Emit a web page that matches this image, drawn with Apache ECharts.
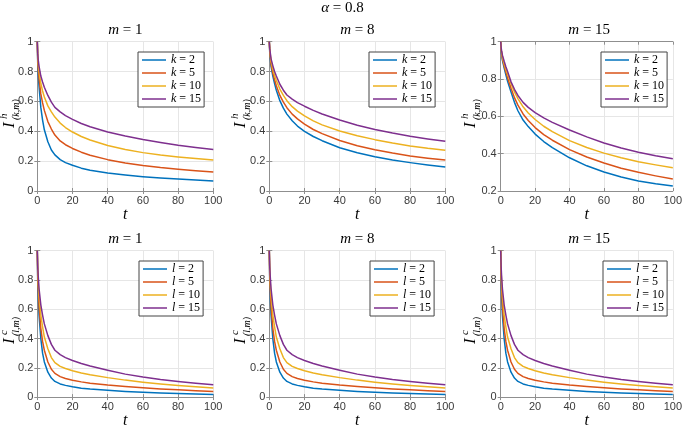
<!DOCTYPE html>
<html><head><meta charset="utf-8">
<script src="https://cdn.jsdelivr.net/npm/echarts@6/dist/echarts.min.js"></script>
<style>html,body{margin:0;padding:0;background:#fff}#c{width:685px;height:430px}</style>
</head><body><div id="c"></div>
<script>
// ---- data ----
const tValues = [0,0.25,0.5,1,2,3,4,6,8,10,13,16,20,25,30,40,50,60,70,80,90,100];
const kNames = ['k = 2','k = 5','k = 10','k = 15'];
const lNames = ['l = 2','l = 5','l = 10','l = 15'];
const mValues = ['1','8','15'];
const alphaValue = '0.8';

// top row, m = 1
const h_m1_k2  = [1,0.85,0.78,0.70,0.56,0.475,0.41,0.33,0.275,0.242,0.21,0.19,0.172,0.153,0.139,0.12,0.107,0.096,0.087,0.08,0.073,0.067];
const h_m1_k5  = [1,0.88,0.82,0.75,0.65,0.59,0.54,0.465,0.415,0.375,0.335,0.31,0.285,0.26,0.24,0.21,0.188,0.171,0.157,0.146,0.136,0.127];
const h_m1_k10 = [1,0.90,0.86,0.80,0.72,0.67,0.63,0.57,0.53,0.495,0.455,0.425,0.395,0.365,0.342,0.305,0.278,0.257,0.241,0.228,0.217,0.208];
const h_m1_k15 = [1,0.92,0.88,0.835,0.77,0.73,0.695,0.64,0.595,0.56,0.53,0.505,0.48,0.452,0.43,0.395,0.368,0.345,0.325,0.307,0.292,0.278];
// top row, m = 8
const h_m8_k2  = [1,0.93,0.895,0.835,0.77,0.72,0.675,0.605,0.555,0.515,0.47,0.435,0.40,0.365,0.337,0.29,0.256,0.23,0.208,0.19,0.174,0.16];
const h_m8_k5  = [1,0.94,0.905,0.85,0.79,0.745,0.705,0.64,0.595,0.558,0.515,0.483,0.448,0.412,0.384,0.338,0.303,0.276,0.254,0.235,0.22,0.207];
const h_m8_k10 = [1,0.95,0.92,0.87,0.815,0.775,0.74,0.683,0.64,0.605,0.565,0.535,0.503,0.47,0.443,0.402,0.37,0.344,0.321,0.302,0.286,0.273];
const h_m8_k15 = [1,0.955,0.93,0.885,0.84,0.80,0.77,0.715,0.675,0.643,0.615,0.592,0.568,0.54,0.516,0.476,0.441,0.412,0.388,0.367,0.349,0.333];
// top row, m = 15
const h_m15_k2  = [1,0.955,0.935,0.90,0.86,0.822,0.788,0.73,0.675,0.63,0.58,0.545,0.505,0.465,0.432,0.378,0.335,0.302,0.275,0.254,0.239,0.227];
const h_m15_k5  = [1,0.96,0.94,0.91,0.87,0.837,0.806,0.75,0.70,0.66,0.613,0.578,0.54,0.502,0.472,0.422,0.382,0.35,0.322,0.30,0.281,0.264];
const h_m15_k10 = [1,0.965,0.945,0.918,0.882,0.852,0.825,0.775,0.731,0.695,0.651,0.618,0.583,0.547,0.518,0.47,0.433,0.403,0.378,0.357,0.34,0.325];
const h_m15_k15 = [1,0.97,0.952,0.928,0.895,0.866,0.84,0.785,0.745,0.712,0.675,0.648,0.62,0.592,0.568,0.527,0.49,0.457,0.43,0.408,0.389,0.373];
// bottom row, m = 1
const c_m1_l2  = [1,0.78,0.69,0.56,0.40,0.30,0.24,0.17,0.13,0.107,0.09,0.08,0.07,0.061,0.055,0.046,0.039,0.033,0.028,0.024,0.021,0.018];
const c_m1_l5  = [1,0.82,0.74,0.62,0.47,0.38,0.32,0.24,0.19,0.162,0.14,0.127,0.115,0.104,0.095,0.082,0.072,0.064,0.056,0.05,0.044,0.039];
const c_m1_l10 = [1,0.86,0.79,0.69,0.56,0.48,0.41,0.33,0.27,0.235,0.21,0.195,0.18,0.165,0.153,0.133,0.116,0.102,0.09,0.08,0.07,0.062];
const c_m1_l15 = [1,0.89,0.83,0.74,0.63,0.56,0.50,0.42,0.36,0.32,0.29,0.27,0.25,0.23,0.213,0.184,0.157,0.137,0.12,0.106,0.094,0.084];
// bottom row, m = 8 (reads the same as m = 1)
const c_m8_l2  = [1,0.78,0.69,0.56,0.40,0.30,0.24,0.17,0.13,0.107,0.09,0.08,0.07,0.061,0.055,0.046,0.039,0.033,0.028,0.024,0.021,0.018];
const c_m8_l5  = [1,0.82,0.74,0.62,0.47,0.38,0.32,0.24,0.19,0.162,0.14,0.127,0.115,0.104,0.095,0.082,0.072,0.064,0.056,0.05,0.044,0.039];
const c_m8_l10 = [1,0.86,0.79,0.69,0.56,0.48,0.41,0.33,0.27,0.235,0.21,0.195,0.18,0.165,0.153,0.133,0.116,0.102,0.09,0.08,0.07,0.062];
const c_m8_l15 = [1,0.89,0.83,0.74,0.63,0.56,0.50,0.42,0.36,0.32,0.29,0.27,0.25,0.23,0.213,0.184,0.157,0.137,0.12,0.106,0.094,0.084];
// bottom row, m = 15 (reads the same as m = 1)
const c_m15_l2  = [1,0.78,0.69,0.56,0.40,0.30,0.24,0.17,0.13,0.107,0.09,0.08,0.07,0.061,0.055,0.046,0.039,0.033,0.028,0.024,0.021,0.018];
const c_m15_l5  = [1,0.82,0.74,0.62,0.47,0.38,0.32,0.24,0.19,0.162,0.14,0.127,0.115,0.104,0.095,0.082,0.072,0.064,0.056,0.05,0.044,0.039];
const c_m15_l10 = [1,0.86,0.79,0.69,0.56,0.48,0.41,0.33,0.27,0.235,0.21,0.195,0.18,0.165,0.153,0.133,0.116,0.102,0.09,0.08,0.07,0.062];
const c_m15_l15 = [1,0.89,0.83,0.74,0.63,0.56,0.50,0.42,0.36,0.32,0.29,0.27,0.25,0.23,0.213,0.184,0.157,0.137,0.12,0.106,0.094,0.084];

const panelSeries = [
  [h_m1_k2,h_m1_k5,h_m1_k10,h_m1_k15],
  [h_m8_k2,h_m8_k5,h_m8_k10,h_m8_k15],
  [h_m15_k2,h_m15_k5,h_m15_k10,h_m15_k15],
  [c_m1_l2,c_m1_l5,c_m1_l10,c_m1_l15],
  [c_m8_l2,c_m8_l5,c_m8_l10,c_m8_l15],
  [c_m15_l2,c_m15_l5,c_m15_l10,c_m15_l15]
];
const yMins = [0,0,0.2,0,0,0];

// ---- layout & style ----
const colors = ['#0072BD','#D95319','#EDB120','#7E2F8E'];
const grids = [
  {left:37.3, top:41.7, width:176, height:149.3},
  {left:269.3, top:41.7, width:176, height:149.3},
  {left:500.7, top:41.7, width:177, height:149.3},
  {left:37.3, top:250.7, width:176, height:150.3},
  {left:269.3, top:250.7, width:176, height:150.3},
  {left:500.7, top:250.7, width:177, height:150.3}
];
const legendPos = [[138,52],[369,52],[601,52],[139,261],[370,261],[603,261]];
const yLabelPos = [[10,128],[241,128],[471,128],[10,344],[241,344],[471,344]];
const axisColor = '#8f8f8f';
const serif = '"Liberation Serif", "DejaVu Serif", serif';
const sans = '"Liberation Sans", Arial, sans-serif';

const xAxes = [], yAxes = [], series = [], legends = [], graphics = [];
grids.forEach((g, gi) => {
  const common = {
    axisLine:{show:true, lineStyle:{color:axisColor, width:1}},
    axisTick:{show:true, inside:true, length:3, lineStyle:{color:axisColor}},
  };
  xAxes.push(Object.assign({gridIndex:gi, type:'value', min:0, max:100, interval:20, position:'bottom',
    name:'t', nameLocation:'middle', nameGap:14,
    nameTextStyle:{fontFamily:serif, fontStyle:'italic', fontSize:16, color:'#000', verticalAlign:'top'},
    axisLabel:{fontFamily:sans, fontSize:11, color:'#3a3a3a', margin:4},
    splitLine:{show:true, lineStyle:{color:'#e6e6e6', width:1}}}, common));
  xAxes.push(Object.assign({gridIndex:gi, type:'value', min:0, max:100, interval:20, position:'top',
    axisLabel:{show:false}, splitLine:{show:false}}, common));
  const ymin = yMins[gi];
  yAxes.push(Object.assign({gridIndex:gi, type:'value', min:ymin, max:1, interval:0.2, position:'left',
    axisLabel:{fontFamily:sans, fontSize:11, color:'#3a3a3a', margin:4,
      formatter: v => (Math.round(v*10)/10).toString()},
    splitLine:{show:true, lineStyle:{color:'#e6e6e6', width:1}}}, common));
  yAxes.push(Object.assign({gridIndex:gi, type:'value', min:ymin, max:1, interval:0.2, position:'right',
    axisLabel:{show:false}, splitLine:{show:false}}, common));

  const names = gi < 3 ? kNames : lNames;
  panelSeries[gi].forEach((arr, si) => {
    series.push({
      type:'line', name:names[si], xAxisIndex:gi*2, yAxisIndex:gi*2,
      data: tValues.map((t, i) => [t, arr[i]]),
      symbol:'none', smooth:false,
      lineStyle:{width:1.5, color:colors[si], join:'round'}, itemStyle:{color:colors[si]},
      silent:true, animation:false
    });
  });
  legends.push({
    orient:'vertical', left:legendPos[gi][0], top:legendPos[gi][1],
    padding:[2,3,2,4], itemWidth:24, itemHeight:1.5, itemGap:1, icon:'rect',
    backgroundColor:'#fff', borderColor:'#444', borderWidth:1,
    selectedMode:false, data:names,
    formatter: n => '{i|' + n.charAt(0) + '}' + n.slice(1),
    textStyle:{fontFamily:serif, fontSize:12, color:'#000', lineHeight:12,
      rich:{i:{fontFamily:serif, fontStyle:'italic', fontSize:12, color:'#000'}}}
  });
  graphics.push({type:'text', x:g.left + g.width/2, y:g.top - 12,
    style:{text:'{i|m} = ' + mValues[gi%3], fill:'#000',
      font:'15px ' + serif, textAlign:'center', textVerticalAlign:'middle',
      rich:{i:{fontStyle:'italic', fontFamily:serif, fontSize:15}}}});
  const [lx, ly] = yLabelPos[gi];
  graphics.push({type:'group', x:lx, y:ly, rotation:Math.PI/2, children:[
    {type:'text', x:0, y:0, style:{text:'I', font:'italic 17px ' + serif, fill:'#000', textVerticalAlign:'middle'}},
    {type:'text', x:9, y:-6, style:{text: gi<3 ? 'h' : 'c', font:'italic 11px ' + serif, fill:'#000', textVerticalAlign:'middle'}},
    {type:'text', x:8, y:6, style:{text: gi<3 ? '(k,m)' : '(l,m)', font:'italic 10px ' + serif, fill:'#000', textVerticalAlign:'middle'}}
  ]});
});
graphics.push({type:'text', x:342.5, y:8,
  style:{text:'{i|α} = ' + alphaValue, fill:'#000', font:'15px ' + serif, textAlign:'center', textVerticalAlign:'middle',
    rich:{i:{fontStyle:'italic', fontFamily:serif, fontSize:15}}}});

const chart = echarts.init(document.getElementById('c'), null, {renderer:'canvas'});
chart.setOption({
  animation:false, backgroundColor:'#fff',
  grid: grids, xAxis: xAxes, yAxis: yAxes, series, legend: legends, graphic: graphics
});
</script></body></html>
